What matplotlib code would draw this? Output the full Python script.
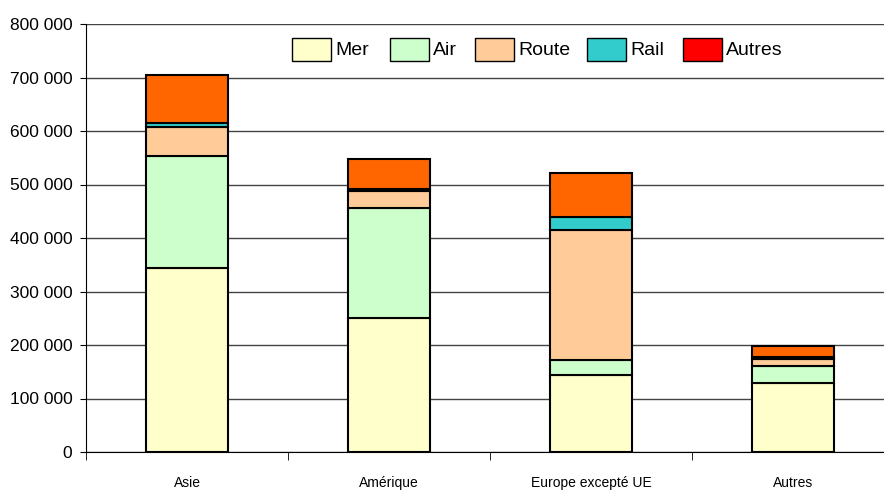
import matplotlib
matplotlib.use("Agg")
import matplotlib.pyplot as plt
from matplotlib.patches import Rectangle
from matplotlib.ticker import FuncFormatter
import numpy as np

plt.rcParams['font.family'] = ['Liberation Sans', 'DejaVu Sans']

categories = ["Asie", "Amérique", "Europe excepté UE", "Autres"]
series_names = ["Mer", "Air", "Route", "Rail", "Autres"]
mer = [344000, 250000, 144000, 129000]
air = [209000, 206000, 28000, 32000]
route = [54000, 32000, 243000, 12000]
rail = [8000, 3000, 24000, 4000]
autres = [90000, 57000, 83000, 22000]
yticks = [0, 100000, 200000, 300000, 400000, 500000, 600000, 700000, 800000]

bar_colors = ["#FFFFCC", "#CCFFCC", "#FFCC99", "#33CCCC", "#FF6600"]
legend_colors = ["#FFFFCC", "#CCFFCC", "#FFCC99", "#33CCCC", "#FF0000"]

W, H = 884, 491
fig = plt.figure(figsize=(W/100, H/100), dpi=100)
ax = fig.add_axes([86/W, (H-452)/H, 808/W, (452-24)/H])

x = np.arange(len(categories))
bottom = np.zeros(len(categories))
for vals, col in zip([mer, air, route, rail, autres], bar_colors):
    ax.bar(x, vals, width=0.41, bottom=bottom, color=col, edgecolor="black",
           linewidth=1.5, zorder=3)
    bottom += np.array(vals)

ax.set_xlim(-0.5, 3.5)
ax.set_ylim(0, 800000)
ax.set_yticks(yticks)
ax.yaxis.set_major_formatter(FuncFormatter(lambda v, p: f"{int(v):,}".replace(",", " ")))
ax.set_xticks(x)
ax.set_xticklabels(categories, fontsize=10)
ax.set_xticks([-0.5, 0.5, 1.5, 2.5, 3.5], minor=True)
ax.tick_params(axis='x', which='major', length=0, pad=17)
ax.tick_params(axis='x', which='minor', length=6, direction='out', color='black')
ax.tick_params(axis='y', labelsize=12.5, length=4.3, pad=5.5, direction='out', color='black')
ax.grid(axis='y', color='#444444', linewidth=1, zorder=0)
for s in ['top', 'right']:
    ax.spines[s].set_visible(False)
ax.spines['left'].set_color('black')
ax.spines['bottom'].set_color('black')

# legend drawn in figure pixel coordinates
box_x = [292, 390, 475, 587, 683]
for bx, name, col in zip(box_x, series_names, legend_colors):
    fig.patches.append(Rectangle((bx/W, 1-61/H), 39/W, 23/H, transform=fig.transFigure,
                                 facecolor=col, edgecolor='black', linewidth=1))
    fig.text((bx+43)/W, 1-50/H, name, fontsize=14, va='center', ha='left')

fig.savefig("out.png", dpi=100)
